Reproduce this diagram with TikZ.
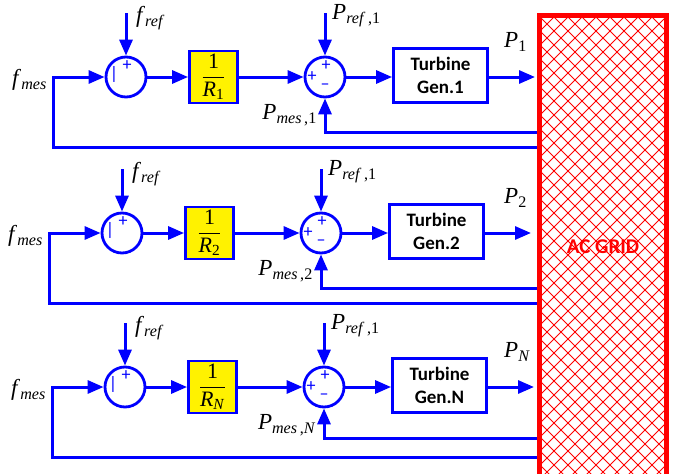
\documentclass[tikz,border=0pt]{standalone}
\usepackage{fontspec}
\usepackage{amsmath}
\setmainfont{Liberation Serif}
\newfontfamily\labfont{Carlito}
\usetikzlibrary{arrows.meta}
\begin{document}
\begin{tikzpicture}[x=1pt,y=-1pt,
  wire/.style={draw=blue, line width=3pt},
  arr/.style={wire, -{Triangle[length=16pt,width=13pt]}},
  sumnode/.style={circle, draw=blue, line width=2.8pt, minimum size=40pt, inner sep=0pt, fill=white},
  gain/.style={rectangle, draw=blue, fill=yellow, line width=2.8pt, minimum width=48pt, minimum height=52pt, inner sep=0pt, font=\fontsize{22}{24}\selectfont},
  tgbox/.style={rectangle, draw=blue, fill=white, line width=2.8pt, minimum width=94pt, minimum height=54pt, inner sep=0pt, align=center, font=\labfont\bfseries\fontsize{19}{23}\selectfont},
  lab/.style={inner sep=0pt, font=\fontsize{23}{25}\selectfont},
  sgn/.style={inner sep=0pt, text=blue, text height=7pt, text depth=0pt, font=\labfont\fontsize{18}{18}\selectfont},
  gridbox/.style={rectangle, draw=red, line width=4.5pt, minimum width=127pt, minimum height=463pt, inner sep=0pt, text=red, font=\labfont\bfseries\fontsize{21}{22}\selectfont}
]
\useasboundingbox (0,0) rectangle (678,474);

\foreach \r/\yc/\dx/\fb/\sb/\gn/\pn in {1/77/0/55/1/1/1, 2/233/-4/55/2/2/2, 3/387/-1/51/{\textit{N}}/N/{\textit{N}}} {
  % blocks
  \node[sumnode] (sa-\r) at (126+\dx,\yc) {};
  \node[sgn] (sa-\r-m) at ([xshift=-12pt,yshift=1pt]sa-\r.center) {|};
  \node[sgn] (sa-\r-p) at ([xshift=1pt,yshift=10pt]sa-\r.center) {+};
  \node[gain] (g-\r) at (213.5+\dx,\yc) {$\dfrac{\text{1}}{\textit{R}_{\text{\sb}}}$};
  \node[sumnode] (sb-\r) at (325+\dx,\yc) {};
  \node[sgn] (sb-\r-pt) at ([xshift=1pt,yshift=10pt]sb-\r.center) {+};
  \node[sgn] (sb-\r-pl) at ([xshift=-13pt,yshift=-1pt]sb-\r.center) {+};
  \node[sgn] (sb-\r-m) at ([yshift=-9pt]sb-\r.center) {–};
  \node[tgbox] (t-\r) at (440.5+\dx,\yc-1.5) {Turbine\\Gen.\gn};
  % free ends
  \coordinate (ft-\r) at (126+\dx,\yc-64);
  \coordinate (pt-\r) at (325+\dx,\yc-64);
  \coordinate (out-\r) at (535+\dx,\yc);
  \coordinate (gp-\r) at (537.5,\yc+\fb);
  \coordinate (gf-\r) at (537.5,\yc+70.5);
  \coordinate (fc-\r) at (53+\dx,\yc+70.5);
  \coordinate (fm-\r) at (53+\dx,\yc);
  % connectors
  \draw[arr] (ft-\r) -- (sa-\r);
  \draw[arr] (pt-\r) -- (sb-\r);
  \draw[arr] (sa-\r) -- (g-\r);
  \draw[arr] (g-\r) -- (sb-\r);
  \draw[arr] (sb-\r.east) -- (sb-\r.east -| t-\r.west);
  \draw[arr] (t-\r.east |- out-\r) -- (out-\r);
  \draw[arr] (gp-\r) -| (sb-\r.south);
  \draw[arr] (gf-\r) -- (fc-\r) -- (fm-\r) -- (sa-\r.west);
  % labels
  \node[lab, anchor=west] (lfr-\r) at (136+\dx,\yc-59) {\textit{f}\textsubscript{\textit{ref}}};
  \node[lab, anchor=west] (lpr-\r) at (332+\dx,\yc-61) {\textit{P}\textsubscript{\textit{ref}\,,1}};
  \node[lab, anchor=east] (lfm-\r) at (47+\dx,\yc+3) {\textit{f}\textsubscript{\textit{mes}}};
  \node[lab, anchor=west] (lp-\r) at (504,\yc-35) {\textit{P}\textsubscript{\pn}};
  \node[lab, anchor=east] (lpm-\r) at (317+\dx,\yc+38) {\textit{P}\textsubscript{\textit{mes}\,,\pn}};
}

% AC grid hatching
\begin{scope}
  \clip (539.5,15.5) rectangle (666.5,480);
  \foreach \k in {-36,...,11} {
    \draw[red, line width=0.9pt] (537+14*\k,0) -- ++(480,480);
    \draw[red, line width=0.9pt] (669-14*\k,0) -- ++(-480,480);
  }
\end{scope}
\node[gridbox] (grid) at (603,247) {AC GRID};
\end{tikzpicture}
\end{document}
